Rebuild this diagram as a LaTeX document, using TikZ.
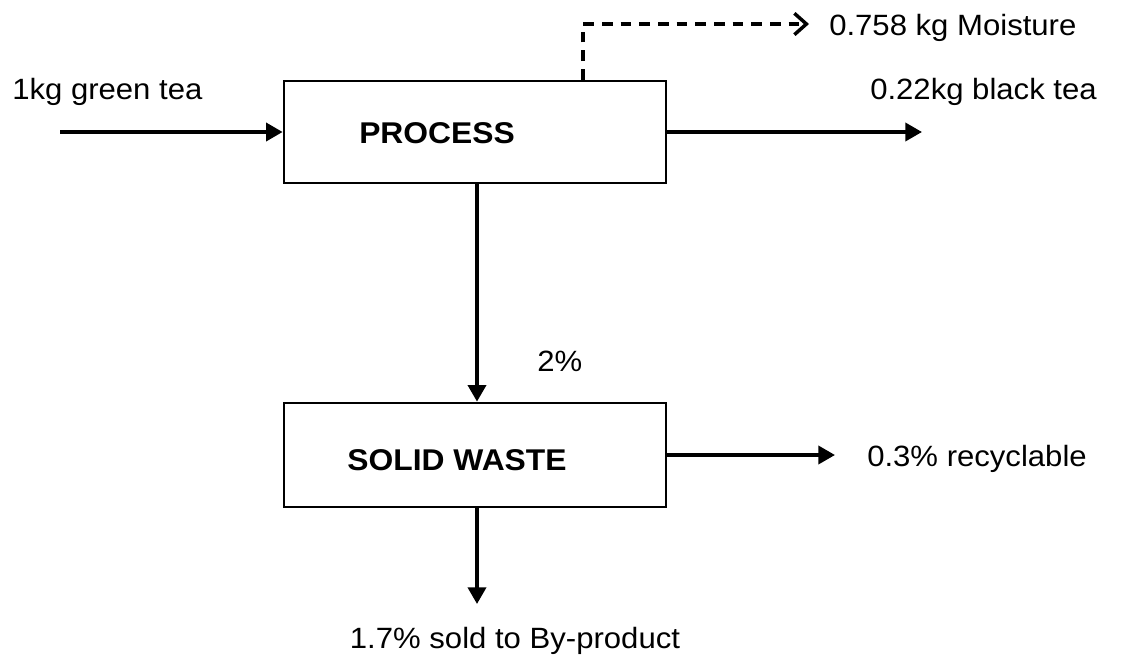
\documentclass[tikz,border=0pt]{standalone}
\usepackage{fontspec}
\setmainfont[FakeStretch=1.06]{Liberation Sans}
\usetikzlibrary{arrows.meta}
\begin{document}
\begin{tikzpicture}[x=0.75pt,y=-0.75pt,
  box/.style={draw,line width=2pt,minimum width=286.5pt,minimum height=76.5pt,inner sep=0pt},
  boxtext/.style={font=\fontsize{22.5}{26}\selectfont\bfseries,inner sep=0pt},
  lbl/.style={font=\fontsize{22}{26}\selectfont,inner sep=0pt,anchor=base west},
  flow/.style={line width=2.8pt,-{Triangle[length=12.5pt,width=13.5pt]}},
  vapour/.style={line width=2.8pt,dash pattern=on 8pt off 6pt,-{Straight Barb[length=9pt,width=16pt,line width=2.6pt]}}]
\useasboundingbox (0,0) rectangle (1121,664);

% unit operations
\node[box] (proc) at (475,132) {};
\node[boxtext] (proclbl) at (437,133) {PROCESS};
\node[box,minimum height=78pt] (waste) at (475,455) {};
\node[boxtext] (wastelbl) at (457,460) {SOLID WASTE};

% free ends of the streams
\coordinate (feed) at (60,132);
\coordinate (prod) at (922,132);
\coordinate (mcorner) at (583,24);
\coordinate (mend) at (809,24);
\coordinate (rec) at (835,455);
\coordinate (byp) at (477,604);

% streams
\draw[flow] (feed) -- (proc.west);
\draw[flow] (proc.east) -- (prod);
\draw[vapour] (proc.north -| mcorner) -- (mcorner) -- (mend);
\draw[flow] (proc.south -| byp) -- (waste.north -| byp);
\draw[flow] (waste.east) -- (rec);
\draw[flow] (waste.south -| byp) -- (byp);

% stream labels
\node[lbl] (tfeed) at (12,99) {1kg green tea};
\node[lbl] (tmoist) at (829,35) {0.758 kg Moisture};
\node[lbl] (tprod) at (870,99) {0.22kg black tea};
\node[lbl] (twaste) at (537,371) {2\%};
\node[lbl] (trec) at (867,466) {0.3\% recyclable};
\node[lbl,anchor=base] (tbyp) at (515,648) {1.7\% sold to By-product};
\end{tikzpicture}
\end{document}
